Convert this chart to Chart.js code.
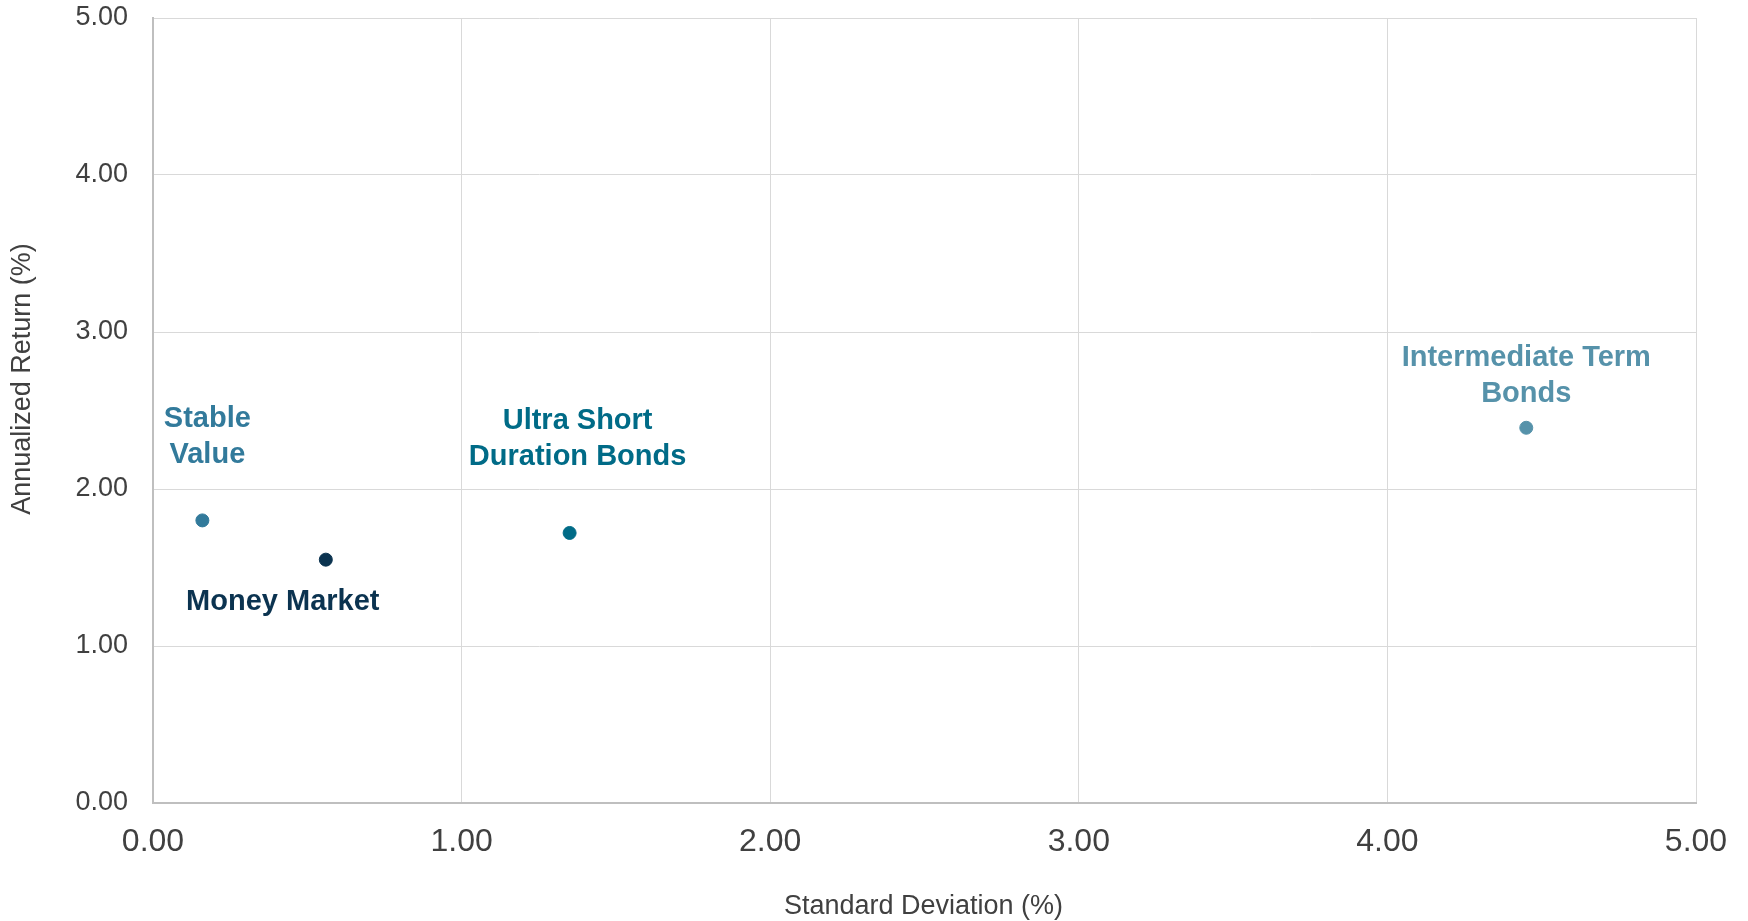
<!DOCTYPE html>
<html>
<head>
<meta charset="utf-8">
<script src="https://cdn.jsdelivr.net/npm/chart.js@4.4.1/dist/chart.umd.min.js"></script>
<style>
  html, body { margin: 0; padding: 0; background: #fff; }
  canvas { display: block; }
</style>
</head>
<body>
<canvas id="riskReturnChart" width="1748" height="921"></canvas>
<script>
// Risk / return data
const seriesNames = ['Stable Value', 'Money Market', 'Ultra Short Duration Bonds', 'Intermediate Term Bonds'];
const labelLines = [['Stable', 'Value'], ['Money Market'], ['Ultra Short', 'Duration Bonds'], ['Intermediate Term', 'Bonds']];
const stdDev = [0.16, 0.56, 1.35, 4.45];
const annualReturn = [1.80, 1.55, 1.72, 2.39];
const axisMin = 0;
const axisMax = 5;
const axisStep = 1;

const seriesColors = ['#327a9b', '#0b3350', '#006b87', '#5692aa'];
// where each label sits relative to its dot (first line baseline)
const labelOffsets = [[5, -93], [-43, 50], [8, -104], [0, -62]];

const FONT = '"Liberation Sans", Arial, sans-serif';

const pointLabels = {
  id: 'pointLabels',
  afterDatasetsDraw(chart) {
    const ctx = chart.ctx;
    ctx.save();
    ctx.font = 'bold 29px ' + FONT;
    ctx.textAlign = 'center';
    ctx.textBaseline = 'alphabetic';
    chart.data.datasets.forEach((ds, i) => {
      const pt = chart.getDatasetMeta(i).data[0];
      ctx.fillStyle = seriesColors[i];
      labelLines[i].forEach((line, j) => {
        ctx.fillText(line, pt.x + labelOffsets[i][0], pt.y + labelOffsets[i][1] + j * 36);
      });
    });
    ctx.restore();
  },
  afterDraw(chart) {
    // axis titles
    const ctx = chart.ctx;
    const area = chart.chartArea;
    ctx.save();
    ctx.fillStyle = '#404040';
    ctx.font = '27px ' + FONT;
    ctx.textAlign = 'center';
    ctx.textBaseline = 'middle';
    ctx.fillText('Standard Deviation (%)', (area.left + area.right) / 2 - 1, 907);
    ctx.translate(23, 379);
    ctx.rotate(-Math.PI / 2);
    ctx.fillText('Annualized Return (%)', 0, 0);
    ctx.restore();
  }
};

new Chart(document.getElementById('riskReturnChart'), {
  type: 'scatter',
  data: {
    datasets: seriesNames.map((name, i) => ({
      label: name,
      data: [{ x: stdDev[i], y: annualReturn[i] }],
      backgroundColor: seriesColors[i],
      borderColor: seriesColors[i],
      pointRadius: 6.5,
      pointHoverRadius: 6.5
    }))
  },
  options: {
    responsive: false,
    animation: false,
    layout: { padding: { top: 18, right: 52, left: 0, bottom: 0 } },
    plugins: {
      legend: { display: false },
      tooltip: { enabled: false }
    },
    scales: {
      x: {
        type: 'linear',
        min: axisMin,
        max: axisMax,
        afterFit: s => { s.height = 118; s.paddingLeft = 0; s.paddingRight = 0; },
        ticks: {
          stepSize: axisStep,
          color: '#404040',
          font: { family: FONT, size: 32 },
          padding: 20,
          callback: v => v.toFixed(2)
        },
        grid: { color: '#d9d9d9', lineWidth: 1, drawTicks: false },
        border: { color: '#bfbfbf', width: 2 }
      },
      y: {
        type: 'linear',
        min: axisMin,
        max: axisMax,
        afterFit: s => { s.width = 153; s.paddingTop = 0; s.paddingBottom = 0; },
        ticks: {
          stepSize: axisStep,
          color: '#404040',
          font: { family: FONT, size: 27 },
          padding: 25,
          callback: v => v.toFixed(2)
        },
        grid: { color: '#d9d9d9', lineWidth: 1, drawTicks: false },
        border: { color: '#bfbfbf', width: 2 }
      }
    }
  },
  plugins: [pointLabels]
});
</script>
</body>
</html>
